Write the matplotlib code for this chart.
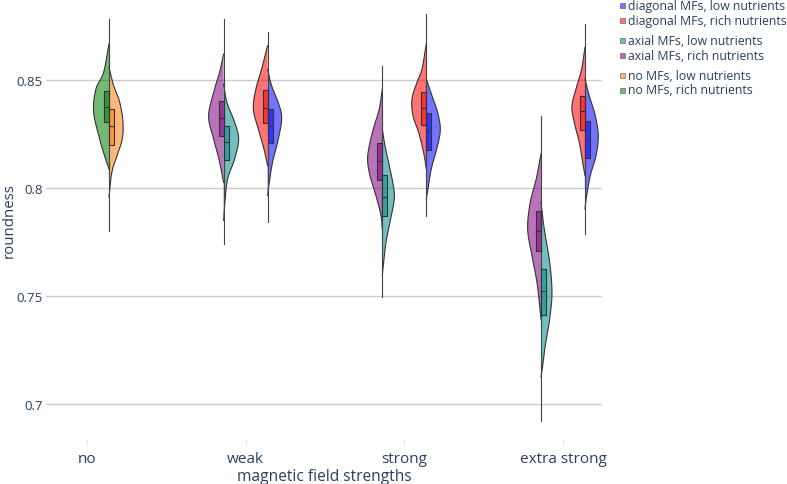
import numpy as np
import matplotlib
matplotlib.use("Agg")
import matplotlib.pyplot as plt
from matplotlib.patches import Polygon, Rectangle

plt.rcParams['font.family'] = ['Open Sans', 'DejaVu Sans']

categories = ["no", "weak", "strong", "extra strong"]
y_ticks = [0.7, 0.75, 0.8, 0.85]
y_tick_labels = ["0.7", "0.75", "0.8", "0.85"]

# box stats per category: (lower whisker, q1, median, q3, upper whisker)
# shapes: (roundness, relative density)
no_rich_cats = [0]
no_rich_box = [(0.805, 0.8304, 0.8375, 0.8448, 0.878)]
no_rich_shape = [[(0.8667, 0), (0.8536, 5.3), (0.8458, 13), (0.8352, 15.3), (0.8227, 9.3), (0.8148, 4.3), (0.8088, 0)]]

no_low_cats = [0]
no_low_box = [(0.780, 0.8199, 0.8285, 0.8366, 0.862)]
no_low_shape = [[(0.8560, 0), (0.8474, 4.7), (0.8398, 10.7), (0.8306, 14), (0.8227, 13.3), (0.8148, 8), (0.8074, 3), (0.7958, 0)]]

axial_rich_cats = [1, 2, 3]
axial_rich_box = [(0.791, 0.8239, 0.8322, 0.8401, 0.878),
                  (0.778, 0.8037, 0.8123, 0.8207, 0.8563),
                  (0.735, 0.7707, 0.7800, 0.7895, 0.8332)]
axial_rich_shape = [
    [(0.8620, 0), (0.8536, 4), (0.8458, 9), (0.8335, 15), (0.8227, 10), (0.8134, 4.7), (0.8026, 0)],
    [(0.8458, 0), (0.8366, 3), (0.8289, 8), (0.8211, 12.3), (0.8134, 14.7), (0.8057, 12.3), (0.7964, 6.3), (0.7872, 1.3), (0.7810, 0)],
    [(0.8157, 0), (0.8042, 4.7), (0.7934, 10.7), (0.7810, 13.3), (0.7687, 9), (0.7563, 4), (0.7455, 1.3), (0.7394, 0)],
]

axial_low_cats = [1, 2, 3]
axial_low_box = [(0.774, 0.8130, 0.8211, 0.8285, 0.850),
                 (0.7494, 0.7869, 0.7960, 0.8060, 0.8358),
                 (0.6923, 0.7412, 0.7522, 0.7625, 0.790)]
axial_low_shape = [
    [(0.8481, 0), (0.8396, 3.3), (0.8304, 11), (0.8227, 15), (0.8134, 11), (0.8042, 4), (0.7935, 1.3), (0.7850, 0)],
    [(0.8273, 0), (0.8196, 2.7), (0.8103, 7), (0.8011, 11), (0.7949, 12), (0.7856, 8.3), (0.7748, 3.7), (0.7640, 1), (0.7594, 0)],
    [(0.7934, 0), (0.7810, 3.3), (0.7656, 8.7), (0.7517, 11), (0.7394, 8.7), (0.7270, 4.3), (0.7177, 1.7), (0.7125, 0)],
]

diag_rich_cats = [1, 2, 3]
diag_rich_box = [(0.808, 0.8299, 0.8370, 0.8454, 0.8722),
                 (0.805, 0.8292, 0.8370, 0.8443, 0.8806),
                 (0.800, 0.8269, 0.8356, 0.8424, 0.876)]
diag_rich_shape = [
    [(0.8659, 0), (0.8551, 6), (0.8458, 11.7), (0.8366, 14.3), (0.8273, 9.3), (0.8181, 3.7), (0.8103, 0)],
    [(0.8667, 0), (0.8551, 4.3), (0.8489, 9.3), (0.8412, 14.3), (0.8335, 13.3), (0.8258, 7.7), (0.8165, 2.7), (0.8088, 0)],
    [(0.8651, 0), (0.8551, 3.3), (0.8474, 8), (0.8381, 13), (0.8304, 10.7), (0.8211, 5.7), (0.8119, 2.3), (0.8057, 0)],
]

diag_low_cats = [1, 2, 3]
diag_low_box = [(0.7844, 0.8207, 0.8289, 0.8366, 0.855),
                (0.7872, 0.8178, 0.8265, 0.8347, 0.850),
                (0.7787, 0.8137, 0.8227, 0.8309, 0.850)]
diag_low_shape = [
    [(0.8550, 0), (0.8474, 4), (0.8381, 11.7), (0.8319, 14), (0.8227, 10.7), (0.8120, 5), (0.8027, 1.7), (0.7964, 0)],
    [(0.8505, 0), (0.8427, 5.7), (0.8350, 11.3), (0.8273, 14), (0.8196, 11.3), (0.8088, 5), (0.7995, 1.7), (0.7949, 0)],
    [(0.8505, 0), (0.8427, 4.3), (0.8335, 10.3), (0.8242, 13.3), (0.8149, 11), (0.8057, 5.3), (0.7964, 1.7), (0.7903, 0)],
]

# name, colour, side (-1 left / +1 right), offset, cats, box, shape
traces = [
    ("diagonal MFs, low nutrients", "#0000ff", 1, 1, diag_low_cats, diag_low_box, diag_low_shape),
    ("diagonal MFs, rich nutrients", "#ff0000", -1, 1, diag_rich_cats, diag_rich_box, diag_rich_shape),
    ("axial MFs, low nutrients", "#008b8b", 1, -1, axial_low_cats, axial_low_box, axial_low_shape),
    ("axial MFs, rich nutrients", "#800080", -1, -1, axial_rich_cats, axial_rich_box, axial_rich_shape),
    ("no MFs, low nutrients", "#ff7f0e", 1, 1, no_low_cats, no_low_box, no_low_shape),
    ("no MFs, rich nutrients", "#008000", -1, 1, no_rich_cats, no_rich_box, no_rich_shape),
]


def smooth(pts, n=14):
    # catmull-rom through the outline points
    p = np.array(pts, dtype=float)
    p = np.vstack([2 * p[0] - p[1], p, 2 * p[-1] - p[-2]])
    out = []
    t = np.linspace(0, 1, n, endpoint=False)[:, None]
    for i in range(1, len(p) - 2):
        p0, p1, p2, p3 = p[i - 1], p[i], p[i + 1], p[i + 2]
        out.append(0.5 * (2 * p1 + (-p0 + p2) * t + (2 * p0 - 5 * p1 + 4 * p2 - p3) * t ** 2
                          + (-p0 + 3 * p1 - 3 * p2 + p3) * t ** 3))
    out.append(p[-2][None])
    s = np.vstack(out)
    s[:, 1] = np.clip(s[:, 1], 0, None)
    return s


W, H = 787, 485
fig = plt.figure(figsize=(W / 100, H / 100), dpi=100)
ax = fig.add_axes([46 / W, (H - 440) / H, (602 - 46) / W, (440 - 3) / H])
ax.set_xlim(-0.258, 3.246)
ax.set_ylim(0.6838, 0.8861)

px = 1 / 158.67          # one pixel in category units
off = 22 * px
box_w = 5 * px
txt = "#2a3f5f"

for name, col, side, o, cats, boxes, shapes in traces:
    for ci, b, sh in zip(cats, boxes, shapes):
        c = ci + o * off
        s = smooth(sh)
        xs = c + side * s[:, 1] * px
        ax.add_patch(Polygon(np.column_stack([xs, s[:, 0]]), closed=True,
                             facecolor=col, alpha=0.55, edgecolor="none", zorder=2))
        ax.plot(xs, s[:, 0], color="#333333", lw=0.8, zorder=3)
        lo, q1, med, q3, hi = b
        ax.plot([c, c], [lo, hi], color="#444444", lw=0.8, zorder=3)
        x0 = c if side > 0 else c - box_w
        ax.add_patch(Rectangle((x0, q1), box_w, q3 - q1, facecolor=col, alpha=0.55,
                               edgecolor="none", zorder=4))
        ax.add_patch(Rectangle((x0, q1), box_w, q3 - q1, facecolor="none",
                               edgecolor="#333333", lw=0.8, zorder=5))
        ax.plot([x0, x0 + box_w], [med, med], color="#333333", lw=0.8, zorder=5)

ax.set_yticks(y_ticks)
ax.set_yticklabels(y_tick_labels)
ax.grid(axis="y", color="#cccccc", lw=1)
ax.set_axisbelow(True)
ax.set_xticks(range(len(categories)))
ax.set_xticklabels(categories)
ax.tick_params(axis="y", length=0, pad=2.5, labelsize=9.5, labelcolor=txt)
ax.tick_params(axis="x", length=4, color="#e5e5e5", pad=4.5, labelsize=11, labelcolor=txt)
for sp in ax.spines.values():
    sp.set_visible(False)

fig.text(324 / W, 1 - 477 / H, "magnetic field strengths", ha="center", va="center",
         fontsize=11.2, color=txt)
fig.text(9 / W, 1 - 221 / H, "roundness", ha="center", va="center", rotation=90,
         fontsize=10.8, color=txt)

# legend, drawn by hand to keep the paired groups
rows = [6.5, 21.5, 41.5, 56.5, 76, 91]
for (name, col, *_), ry in zip(traces, rows):
    fig.patches.append(Rectangle((620 / W, 1 - (ry + 2.5) / H), 5 / W, 5 / H,
                                 transform=fig.transFigure, facecolor=col, alpha=0.55,
                                 edgecolor="#333333", lw=0.6))
    fig.text(628 / W, 1 - ry / H, name, ha="left", va="center", fontsize=8.8, color=txt)

fig.savefig("out.png", dpi=100)
